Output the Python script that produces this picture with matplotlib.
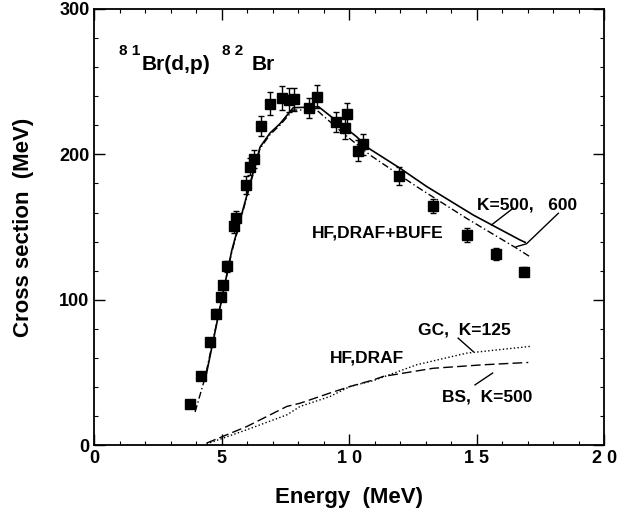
import matplotlib.pyplot as plt
from matplotlib.ticker import MultipleLocator

plt.rcParams['font.family'] = ['Liberation Sans', 'DejaVu Sans']
plt.rcParams['font.weight'] = 'bold'

# measured cross sections
e_data = [3.75, 4.19, 4.54, 4.77, 4.97, 5.05, 5.2, 5.48, 5.55, 5.94, 6.09, 6.25,
          6.55, 6.89, 7.34, 7.65, 7.82, 8.43, 8.72, 9.48, 9.83, 9.9, 10.33, 10.52,
          11.94, 13.29, 14.6, 15.75, 16.86]
s_data = [28.6, 47.9, 71.2, 90.4, 102, 110, 123, 151, 156, 179, 191.5, 196.8,
          219.6, 234.7, 238.6, 237.3, 237.7, 232, 239.5, 222, 217.8, 228, 202.5, 206.8,
          185, 164.5, 144.6, 131.5, 119.4]
s_err = [2, 2, 2, 3, 3, 3, 4, 5, 5, 6, 6, 6,
         7, 8, 8, 8, 8, 7, 8, 7, 7, 7, 7, 7,
         6, 5, 5, 4, 3]

# HF,DRAF+BUFE K=500 (solid)
e_k500 = [4.4, 5.39, 6.5, 6.89, 7.28, 7.8, 8.8, 9.37, 10.29, 10.68, 11.99, 13.04, 14.86, 16.69, 16.9]
s_k500 = [49.7, 134, 205, 214.6, 221, 232, 232.6, 224.7, 212, 205, 190.4, 177.8, 158.3, 141.2, 139.5]

# HF,DRAF+BUFE K=600 (dash-dot)
e_k600 = [3.95, 4.34, 5.39, 6.5, 6.89, 7.28, 7.8, 8.72, 9.76, 10.81, 12.64, 14.6, 16.56, 17.08]
s_k600 = [23, 46.5, 133, 204, 213.5, 220, 230.4, 230.4, 214.4, 199.5, 177.8, 156, 135.5, 129.7]

# HF,DRAF BS K=500 (dashed)
e_bs = [4.4, 5.98, 7.55, 8.07, 9.24, 10.03, 10.94, 11.33, 13.29, 15.25, 17.02]
s_bs = [1.6, 13, 26.8, 29, 36, 40.5, 45, 47.4, 53, 55.4, 57]

# HF,DRAF GC K=125 (dotted)
e_gc = [4.4, 5.98, 7.55, 8.07, 9.24, 10.03, 10.94, 12.64, 14.6, 17.08]
s_gc = [1.0, 10.8, 21, 26.8, 33.6, 40.5, 44.5, 55.4, 63.4, 68]

fig = plt.figure(figsize=(6.21, 5.12), dpi=100)
ax = fig.add_axes([0.152, 0.13, 0.821, 0.853])

ax.plot(e_k500, s_k500, color='black', lw=1.2)
ax.plot(e_k600, s_k600, color='black', lw=1.0, dashes=(5, 2, 1, 2))
ax.plot(e_bs, s_bs, color='black', lw=1.0, dashes=(7, 3))
ax.plot(e_gc, s_gc, color='black', lw=1.0, linestyle=':')
ax.errorbar(e_data, s_data, yerr=s_err, fmt='s', color='black', ms=6.5,
            elinewidth=1, capsize=2.5)

# reaction label
ax.text(0.95, 268, '8 1', fontsize=11, fontweight='bold')
ax.text(1.85, 258, 'Br(d,p)', fontsize=15, fontweight='bold')
ax.text(5.0, 268, '8 2', fontsize=11, fontweight='bold')
ax.text(6.15, 258, 'Br', fontsize=15, fontweight='bold')

# curve labels and leader lines
ax.text(15.0, 165, 'K=500,   600', fontsize=12.5, fontweight='bold', va='center')
ax.plot([15.58, 16.43], [151.5, 163], color='black', lw=1)
ax.plot([18.2, 16.95, 16.55], [159.5, 138.5, 136.5], color='black', lw=1)
ax.text(8.52, 145.8, 'HF,DRAF+BUFE', fontsize=12.5, fontweight='bold', va='center')
ax.text(9.24, 60, 'HF,DRAF', fontsize=12.5, fontweight='bold', va='center')
ax.text(12.7, 79.4, 'GC,  K=125', fontsize=12.5, fontweight='bold', va='center')
ax.plot([14.27, 14.86], [73.7, 64.5], color='black', lw=1)
ax.text(13.62, 33.6, 'BS,  K=500', fontsize=12.5, fontweight='bold', va='center')
ax.plot([14.93, 15.62], [41.6, 49.7], color='black', lw=1)

ax.set_xlim(0, 20)
ax.set_ylim(0, 300)
ax.set_xticks([0, 5, 10, 15, 20])
ax.set_xticklabels(['0', '5', '1 0', '1 5', '2 0'])
ax.set_yticks([0, 100, 200, 300])
ax.xaxis.set_minor_locator(MultipleLocator(1))
ax.yaxis.set_minor_locator(MultipleLocator(20))
ax.tick_params(which='both', direction='in', top=True, right=True, labelsize=13)
ax.tick_params(which='major', length=8, width=1)
ax.tick_params(which='minor', length=3, width=0.8)
for lab in ax.get_xticklabels() + ax.get_yticklabels():
    lab.set_fontweight('bold')
for sp in ax.spines.values():
    sp.set_linewidth(1.3)

ax.set_xlabel('Energy  (MeV)', fontsize=16, fontweight='bold', labelpad=14)
ax.set_ylabel('Cross section  (MeV)', fontsize=16, fontweight='bold', labelpad=18)

fig.savefig('out.png', dpi=100)
